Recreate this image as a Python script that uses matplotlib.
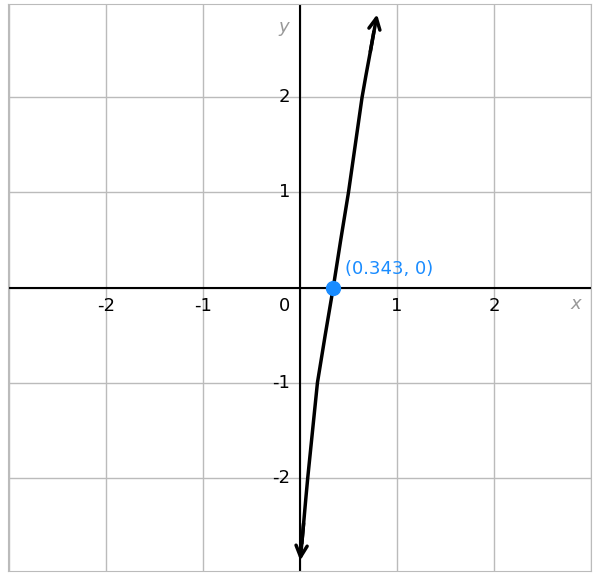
import matplotlib
matplotlib.use("Agg")
import matplotlib.pyplot as plt

curve_x = [0.0, 0.02, 0.04, 0.06, 0.08, 0.13, 0.18, 0.26, 0.343, 0.42, 0.50, 0.57, 0.64, 0.68, 0.72, 0.76, 0.80]
curve_y = [-2.9, -2.68, -2.45, -2.22, -2.0, -1.5, -1.0, -0.5, 0.0, 0.5, 1.0, 1.5, 2.0, 2.23, 2.45, 2.68, 2.9]
point = (0.343, 0)
point_label = "(0.343, 0)"
xticks = [-2, -1, 1, 2]
yticks = [-2, -1, 1, 2]

fig = plt.figure(figsize=(5.97, 5.75), dpi=100)
ax = fig.add_axes([8/597, 4/575, 583/597, 567/575])
ax.set_xlim(-3.01, 3.0)
ax.set_ylim(-2.98, 2.98)
for v in range(-3, 4):
    ax.axvline(v, color="#bbbbbb", lw=1, zorder=0)
    ax.axhline(v, color="#bbbbbb", lw=1, zorder=0)
ax.axhline(0, color="black", lw=1.5, zorder=1)
ax.axvline(0, color="black", lw=1.5, zorder=1)
for s in ax.spines.values():
    s.set_color("#bbbbbb")
ax.set_xticks([]); ax.set_yticks([])

for t in xticks:
    ax.text(t, -0.1, str(t), ha="center", va="top", fontsize=13)
for t in yticks:
    ax.text(-0.1, t, str(t), ha="right", va="center", fontsize=13)
ax.text(-0.1, -0.1, "0", ha="right", va="top", fontsize=13)
ax.text(2.84, -0.08, "x", ha="center", va="top", fontsize=13, style="italic", color="#999999")
ax.text(-0.17, 2.74, "y", ha="center", va="center", fontsize=13, style="italic", color="#999999")

ax.plot(curve_x[1:-1], curve_y[1:-1], color="black", lw=2.5, zorder=3)
ax.annotate("", xy=(curve_x[-1], curve_y[-1]), xytext=(curve_x[-3], curve_y[-3]),
            arrowprops=dict(arrowstyle="->", color="black", lw=2.5, mutation_scale=20), zorder=3)
ax.annotate("", xy=(curve_x[0], curve_y[0]), xytext=(curve_x[2], curve_y[2]),
            arrowprops=dict(arrowstyle="->", color="black", lw=2.5, mutation_scale=20), zorder=3)
ax.plot([point[0]], [point[1]], "o", color="#1a8cff", ms=10, zorder=4)
ax.text(point[0] + 0.12, point[1] + 0.1, point_label, color="#1a8cff", fontsize=13, va="bottom")
fig.savefig("out.png", dpi=100)
